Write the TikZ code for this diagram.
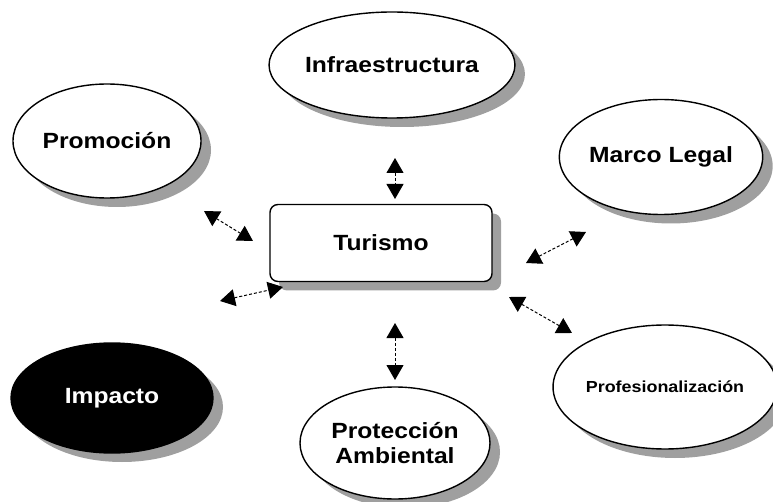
\documentclass[tikz,border=0pt]{standalone}
\usepackage{fontspec}
\setmainfont[FakeStretch=1.12]{Liberation Sans}
\usepackage{tikz}
\usetikzlibrary{arrows.meta,shapes.geometric,shadows}
\newcommand{\grande}{\fontsize{22}{25}\bfseries\selectfont}
\newcommand{\chica}{\fontsize{16}{18}\bfseries\selectfont}

\begin{document}
\begin{tikzpicture}[x=1pt,y=-1pt,
  tema/.style={ellipse,draw,line width=1.4pt,fill=white,inner sep=0pt,align=center,font=\grande,
    drop shadow={shadow xshift=10pt,shadow yshift=-9pt,fill=gray!75,opacity=1}},
  centro/.style={rectangle,rounded corners=8pt,draw,line width=1.4pt,fill=white,minimum width=222pt,minimum height=77pt,font=\grande,
    drop shadow={shadow xshift=9pt,shadow yshift=-9pt,fill=gray!75,opacity=1}},
  enlace/.style={densely dashed,line width=1pt,{Triangle[length=15pt,width=17pt]}-{Triangle[length=15pt,width=17pt]}}
]
\useasboundingbox (0,0) rectangle (773,502);

% nodo central
\node[centro] (tur) at (381,243) {Turismo};

% temas alrededor
\node[tema,minimum width=182pt,minimum height=106pt] (infra) at (392,65) {Infraestructura};
\node[tema,minimum width=188pt,minimum height=114pt] (promo) at (107,141) {Promoción};
\node[tema,minimum width=186pt,minimum height=115pt] (marco) at (661,157) {Marco Legal};
\node[tema,minimum width=202pt,minimum height=110pt,fill=black,text=white] (impa) at (112,398) {Impacto};
\node[tema,minimum width=190pt,minimum height=112pt] (prot) at (395,443) {Protección\\Ambiental};
\node[tema,minimum width=184pt,minimum height=124pt,font=\chica] (prof) at (665,387) {Profesionalización};

% puntas de las flechas
\coordinate (infra-a) at (395,158);  \coordinate (infra-b) at (395,199);
\coordinate (promo-a) at (204,211);  \coordinate (promo-b) at (253,241);
\coordinate (marco-a) at (586,232);  \coordinate (marco-b) at (526,263);
\coordinate (impa-a) at (220,301);   \coordinate (impa-b) at (283,287);
\coordinate (prot-a) at (395,323);   \coordinate (prot-b) at (395,380);
\coordinate (prof-a) at (509,297);   \coordinate (prof-b) at (572,333);

\draw[enlace] (infra-a) -- (infra-b);
\draw[enlace] (promo-a) -- (promo-b);
\draw[enlace] (marco-a) -- (marco-b);
\draw[enlace] (impa-a) -- (impa-b);
\draw[enlace] (prot-a) -- (prot-b);
\draw[enlace] (prof-a) -- (prof-b);
\end{tikzpicture}
\end{document}
